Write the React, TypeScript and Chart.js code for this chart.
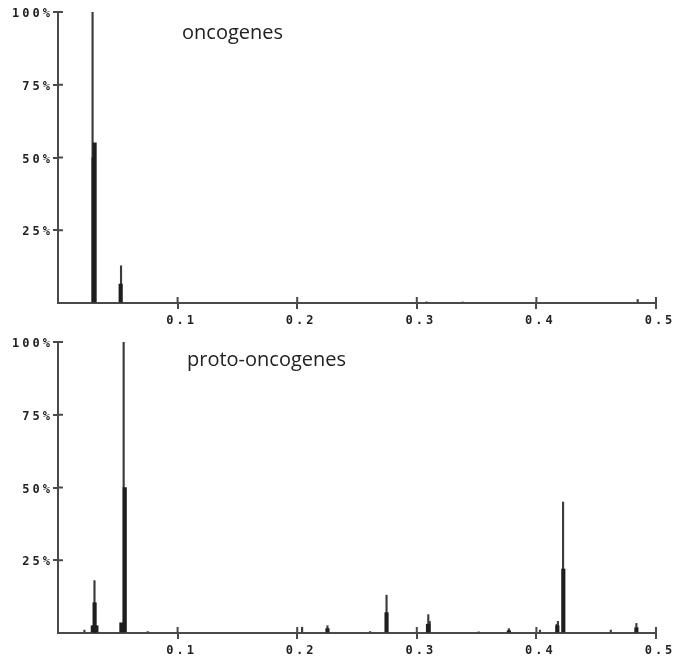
import React, { useEffect, useRef } from 'react';
import { Chart, registerables } from 'chart.js';

Chart.register(...registerables);

// ---- data ----
const xTickValues = [0, 0.1, 0.2, 0.3, 0.4, 0.5];
const yTickValues = [0, 25, 50, 75, 100];

const oncoTitle = 'oncogenes';
const oncoStickX = [0.0289, 0.0527, 0.3082, 0.3383, 0.4847];
const oncoStickY = [100, 12.8, 0.4, 0.3, 1.2];
const oncoCoreX = [0.0298, 0.0306, 0.0524];
const oncoCoreY = [50, 55, 6.5];

const protoTitle = 'proto-oncogenes';
const protoStickX = [0.0221, 0.0305, 0.0549, 0.075, 0.2041, 0.2253, 0.261, 0.2747, 0.3085, 0.3096, 0.3108, 0.3518, 0.377, 0.403, 0.417, 0.418, 0.4223, 0.4622, 0.4836];
const protoStickY = [1, 18, 100, 0.5, 2, 2.5, 0.5, 13, 3, 6.3, 4, 0.4, 1.5, 1, 3, 4, 45, 1, 3.3];
const protoCoreX = [0.0291, 0.0306, 0.0321, 0.053, 0.0558, 0.2253, 0.2747, 0.3096, 0.377, 0.4175, 0.4225, 0.4836];
const protoCoreY = [2.5, 10.4, 2.5, 3.5, 50, 1.5, 7, 3, 0.8, 2.5, 22, 1.8];

const AXIS = '#4a4a4a';

const zip = (xs: number[], ys: number[]) => xs.map((x, i) => ({ x, y: ys[i] }));

const innerTicks = {
  id: 'innerTicks',
  beforeDraw(chart: any) {
    chart.ctx.letterSpacing = '3px';
  },
  afterDraw(chart: any) {
    const { ctx, chartArea } = chart;
    ctx.letterSpacing = '0px';
    ctx.save();
    ctx.strokeStyle = AXIS;
    ctx.lineWidth = 2;
    const xs = chart.scales.x;
    const ys = chart.scales.y;
    ctx.beginPath();
    xTickValues.forEach((v) => {
      if (v === 0) return;
      const px = xs.getPixelForValue(v);
      ctx.moveTo(px, chartArea.bottom);
      ctx.lineTo(px, chartArea.bottom - 6);
    });
    yTickValues.forEach((v) => {
      if (v === 0) return;
      const py = ys.getPixelForValue(v);
      ctx.moveTo(chartArea.left, py);
      ctx.lineTo(chartArea.left + 5, py);
    });
    ctx.stroke();
    ctx.restore();
  },
};

function makeConfig(stickX: number[], stickY: number[], coreX: number[], coreY: number[], topPad: number, xHeight: number) {
  const tickFont = { family: 'DejaVu Sans Mono', size: 12, weight: 'bold' as const };
  return {
    type: 'bar' as const,
    data: {
      datasets: [
        {
          data: zip(stickX, stickY),
          backgroundColor: '#3c3c3c',
          barThickness: 1.5,
          grouped: false,
          order: 2,
        },
        {
          data: zip(coreX, coreY),
          backgroundColor: '#1e1e1e',
          barThickness: 3.5,
          grouped: false,
          order: 1,
        },
      ],
    },
    options: {
      animation: false as const,
      responsive: false,
      events: [],
      layout: { padding: { top: topPad, right: 23, left: 0, bottom: 0 } },
      plugins: { legend: { display: false }, tooltip: { enabled: false }, title: { display: false } },
      scales: {
        x: {
          type: 'linear' as const,
          min: 0,
          max: 0.5,
          offset: false,
          afterFit: (s: any) => { s.height = xHeight; },
          afterBuildTicks: (s: any) => { s.ticks = xTickValues.map((v) => ({ value: v })); },
          border: { display: true, color: AXIS, width: 2 },
          grid: {
            offset: false,
            drawOnChartArea: false,
            drawTicks: true,
            tickLength: 6,
            lineWidth: 2,
            color: (c: any) => (c.tick && c.tick.value === 0 ? 'rgba(0,0,0,0)' : AXIS),
          },
          ticks: {
            color: '#222',
            font: tickFont,
            padding: 5,
            labelOffset: 4,
            maxRotation: 0,
            autoSkip: false,
            callback: (v: any) => (v === 0 ? '' : Number(v).toFixed(1)),
          },
        },
        y: {
          type: 'linear' as const,
          min: 0,
          max: 100,
          afterFit: (s: any) => { s.width = 58; },
          afterBuildTicks: (s: any) => { s.ticks = yTickValues.map((v) => ({ value: v })); },
          border: { display: true, color: AXIS, width: 2 },
          grid: {
            drawOnChartArea: false,
            drawTicks: true,
            tickLength: 5,
            lineWidth: 2,
            color: (c: any) => (c.tick && c.tick.value === 0 ? 'rgba(0,0,0,0)' : AXIS),
          },
          ticks: {
            color: '#222',
            font: tickFont,
            padding: 0,
            labelOffset: 2,
            autoSkip: false,
            callback: (v: any) => (v === 0 ? '' : `${v}%`),
          },
        },
      },
    },
    plugins: [innerTicks],
  };
}

function Panel(props: {
  top: number; height: number; title: string; titleLeft: number; titleTop: number;
  stickX: number[]; stickY: number[]; coreX: number[]; coreY: number[]; topPad: number; xHeight: number;
}) {
  const ref = useRef<HTMLCanvasElement | null>(null);
  useEffect(() => {
    if (!ref.current) return;
    const chart = new Chart(ref.current, makeConfig(props.stickX, props.stickY, props.coreX, props.coreY, props.topPad, props.xHeight) as any);
    return () => chart.destroy();
  }, []);
  return (
    <div style={{ position: 'absolute', left: 0, top: props.top, width: 679, height: props.height }}>
      <canvas ref={ref} width={679} height={props.height} style={{ display: 'block' }} />
      <div
        style={{
          position: 'absolute',
          left: props.titleLeft,
          top: props.titleTop,
          fontFamily: '"Open Sans", sans-serif',
          fontSize: 20,
          lineHeight: '20px',
          color: '#222',
          whiteSpace: 'nowrap',
        }}
      >
        {props.title}
      </div>
    </div>
  );
}

export default function App() {
  return (
    <div style={{ position: 'absolute', left: 0, top: 0, width: 679, height: 658, background: '#fff', overflow: 'hidden' }}>
      <Panel top={0} height={329} title={oncoTitle} titleLeft={182} titleTop={22}
        stickX={oncoStickX} stickY={oncoStickY} coreX={oncoCoreX} coreY={oncoCoreY} topPad={12} xHeight={26} />
      <Panel top={330} height={328} title={protoTitle} titleLeft={187} titleTop={19}
        stickX={protoStickX} stickY={protoStickY} coreX={protoCoreX} coreY={protoCoreY} topPad={12} xHeight={25} />
    </div>
  );
}
